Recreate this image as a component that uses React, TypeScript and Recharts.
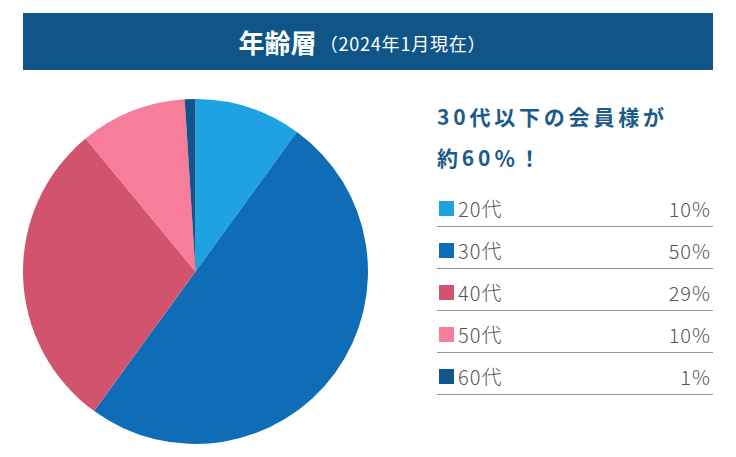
import { PieChart, Pie, Cell, Legend } from "recharts"

const ageGroups = ["20代", "30代", "40代", "50代", "60代"]
const shares = [10, 50, 29, 10, 1]
const sliceColors = ["#1fa2e2", "#0f6db7", "#d1546c", "#f67e9b", "#10568a"]

const pieData = ageGroups.map((name, i) => ({ name, value: shares[i] }))

const font = '"Noto Sans CJK JP", "Noto Sans", sans-serif'

function AgeLegend() {
  return (
    <div style={{ width: 276, fontFamily: font }}>
      <div
        style={{
          color: "#1b5b8c",
          fontSize: 21,
          fontWeight: 700,
          letterSpacing: 3.8,
          lineHeight: "41px",
          marginBottom: 7,
        }}
      >
        30代以下の会員様が
        <br />
        約60％！
      </div>
      {pieData.map((d, i) => (
        <div
          key={d.name}
          style={{
            display: "flex",
            alignItems: "center",
            boxSizing: "border-box",
            height: 42,
            paddingTop: 6,
            borderBottom: "1.5px solid #959595",
            color: "#555",
            fontSize: 20,
            fontWeight: 300,
            letterSpacing: 1,
          }}
        >
          <span
            style={{
              width: 15,
              height: 15,
              background: sliceColors[i],
              marginLeft: 2,
              marginRight: 4,
            }}
          />
          <span style={{ flex: 1 }}>{d.name}</span>
          <span style={{ marginRight: 2 }}>{d.value}%</span>
        </div>
      ))}
    </div>
  )
}

export default function App() {
  return (
    <div
      style={{
        position: "absolute",
        left: 0,
        top: 0,
        width: 736,
        height: 457,
        background: "#fff",
        fontFamily: font,
      }}
    >
      <div
        style={{
          position: "absolute",
          left: 23,
          top: 13,
          width: 690,
          height: 57,
          boxSizing: "border-box",
          paddingRight: 11,
          background: "#0f5587",
          color: "#fff",
          display: "flex",
          alignItems: "center",
          justifyContent: "center",
        }}
      >
        <span style={{ fontSize: 26, fontWeight: 700, marginRight: 3 }}>年齢層</span>
        <span style={{ fontSize: 18, letterSpacing: 0.8, marginTop: 3 }}>（2024年1月現在）</span>
      </div>
      <PieChart
        width={736}
        height={457}
        margin={{ top: 0, right: 0, bottom: 0, left: 0 }}
        style={{ position: "absolute", left: 0, top: 0 }}
      >
        <Pie
          data={pieData}
          dataKey="value"
          nameKey="name"
          cx={195.5}
          cy={271.5}
          outerRadius={172.5}
          startAngle={90}
          endAngle={-270}
          stroke="none"
          isAnimationActive={false}
        >
          {pieData.map((d, i) => (
            <Cell key={d.name} fill={sliceColors[i]} />
          ))}
        </Pie>
        <Legend
          layout="vertical"
          content={() => <AgeLegend />}
          wrapperStyle={{ position: "absolute", left: 437, top: 96, width: 276 }}
        />
      </PieChart>
    </div>
  )
}
